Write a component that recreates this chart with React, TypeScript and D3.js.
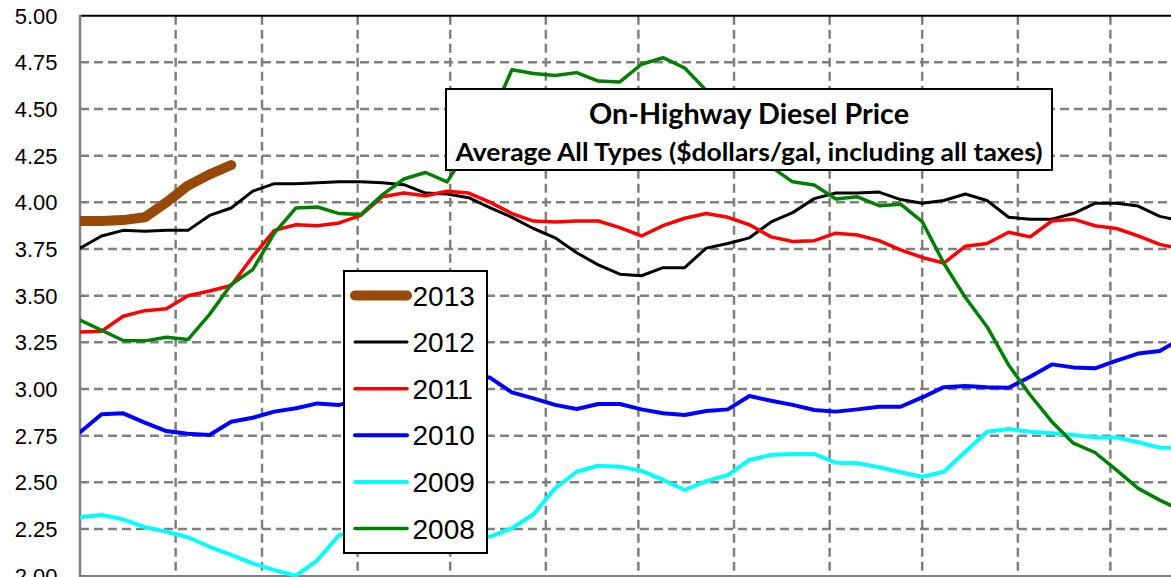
import React from 'react';
import * as d3 from 'd3';

// weekly on-highway diesel prices, week index 0..51
const prices2013 = [3.90, 3.90, 3.905, 3.92, 4.00, 4.09, 4.15, 4.20];
const prices2012 = [3.755, 3.82, 3.85, 3.845, 3.85, 3.85, 3.93, 3.97, 4.06, 4.10, 4.10, 4.105, 4.11, 4.11, 4.105,
  4.095, 4.05, 4.045, 4.025, 3.97, 3.92, 3.86, 3.81, 3.73, 3.665, 3.615, 3.607, 3.65, 3.65, 3.755, 3.78, 3.81,
  3.895, 3.945, 4.02, 4.05, 4.05, 4.055, 4.015, 3.995, 4.01, 4.045, 4.01, 3.92, 3.91, 3.91, 3.94, 3.995, 3.995,
  3.98, 3.925, 3.90];
const prices2011 = [3.305, 3.31, 3.39, 3.42, 3.43, 3.50, 3.525, 3.555, 3.71, 3.85, 3.88, 3.875, 3.89, 3.93, 4.03,
  4.05, 4.035, 4.06, 4.05, 4.00, 3.94, 3.90, 3.895, 3.90, 3.90, 3.865, 3.82, 3.875, 3.915, 3.94, 3.92, 3.88,
  3.815, 3.79, 3.795, 3.835, 3.825, 3.795, 3.745, 3.705, 3.675, 3.765, 3.78, 3.84, 3.815, 3.90, 3.91, 3.875,
  3.86, 3.82, 3.775, 3.75];
const prices2010 = [2.768, 2.865, 2.87, 2.82, 2.775, 2.76, 2.754, 2.825, 2.846, 2.879, 2.897, 2.923, 2.915, 2.94,
  3.00, 3.06, 3.07, 3.09, 3.08, 3.06, 2.982, 2.95, 2.915, 2.893, 2.92, 2.92, 2.891, 2.87, 2.861, 2.882, 2.891,
  2.963, 2.937, 2.915, 2.888, 2.879, 2.891, 2.905, 2.905, 2.955, 3.01, 3.016, 3.01, 3.007, 3.066, 3.132, 3.116,
  3.111, 3.152, 3.19, 3.204, 3.27];
const prices2009 = [2.313, 2.325, 2.302, 2.26, 2.236, 2.206, 2.155, 2.111, 2.066, 2.03, 2.00, 2.084, 2.218, 2.23,
  2.22, 2.21, 2.20, 2.20, 2.20, 2.21, 2.254, 2.329, 2.468, 2.557, 2.589, 2.584, 2.562, 2.513, 2.459, 2.507, 2.539,
  2.62, 2.647, 2.652, 2.652, 2.605, 2.602, 2.581, 2.554, 2.53, 2.557, 2.664, 2.771, 2.786, 2.771, 2.763, 2.754,
  2.741, 2.741, 2.715, 2.686, 2.686];
const prices2008 = [3.37, 3.315, 3.26, 3.258, 3.277, 3.265, 3.40, 3.56, 3.64, 3.835, 3.97, 3.975, 3.94, 3.935,
  4.04, 4.125, 4.16, 4.11, 4.29, 4.45, 4.71, 4.69, 4.68, 4.695, 4.65, 4.645, 4.74, 4.775, 4.72, 4.60, 4.47, 4.33,
  4.19, 4.11, 4.093, 4.018, 4.03, 3.982, 3.99, 3.897, 3.674, 3.49, 3.334, 3.129, 2.968, 2.825, 2.71, 2.66, 2.566,
  2.468, 2.405, 2.35];

const seriesYears = ['2013', '2012', '2011', '2010', '2009', '2008'];
const seriesValues = [prices2013, prices2012, prices2011, prices2010, prices2009, prices2008];
const seriesColors = ['#984807', '#000000', '#ff0000', '#0000ff', '#00ffff', '#008000'];
const seriesWidths = [10, 3, 3.5, 4, 4, 3.5];

const yTicks = [2.0, 2.25, 2.5, 2.75, 3.0, 3.25, 3.5, 3.75, 4.0, 4.25, 4.5, 4.75, 5.0];
const monthStartDays = [31, 59, 90, 120, 151, 181, 212, 243, 273, 304, 334];

const titleLine1 = 'On-Highway Diesel Price';
const titleLine2 = 'Average All Types ($dollars/gal, including all taxes)';

const W = 1171;
const H = 577;

export default function App() {
  const left = 80;
  const top = 15.7;
  const bottom = 575.7;
  const pxPerDay = 3.085;

  const x = d3.scaleLinear().domain([0, 365]).range([left, left + 365 * pxPerDay]);
  const y = d3.scaleLinear().domain([2, 5]).range([bottom, top]);

  const line = d3.line<number>()
    .x((_, i) => x(i * 7))
    .y(d => y(d));

  const grey = '#808080';
  const legendX = 344, legendY = 271, legendW = 143, legendH = 282;
  const legendStep = 46.6;

  return (
    <svg width={W} height={H} style={{ position: 'absolute', left: 0, top: 0, background: '#fff' }}>
      <defs>
        <clipPath id="plot">
          <rect x={left} y={top} width={x(365) - left} height={bottom - top + 2} />
        </clipPath>
      </defs>

      {/* grid */}
      {yTicks.filter(t => t > 2 && t < 5).map(t => (
        <line key={'h' + t} x1={left} x2={W} y1={y(t)} y2={y(t)}
          stroke={grey} strokeWidth={2.5} strokeDasharray="9,5" />
      ))}
      {monthStartDays.map(d => (
        <line key={'v' + d} x1={x(d)} x2={x(d)} y1={top} y2={H}
          stroke={grey} strokeWidth={2.5} strokeDasharray="9,5" />
      ))}

      {/* axes frame */}
      <line x1={left} x2={W} y1={top} y2={top} stroke="#000" strokeWidth={2} />
      <line x1={left} x2={left} y1={top - 1} y2={H} stroke={grey} strokeWidth={2.5} />
      <line x1={left} x2={W} y1={bottom + 0.5} y2={bottom + 0.5} stroke={grey} strokeWidth={2.5} />

      {yTicks.map(t => (
        <text key={'t' + t} x={57.5} y={y(t) + 7.9} textAnchor="end"
          fontFamily="'Liberation Sans', Arial, sans-serif" fontSize={22} fill="#000">
          {t.toFixed(2)}
        </text>
      ))}

      {/* series, 2013 first so 2008 ends on top */}
      <g clipPath="url(#plot)">
        {seriesValues.map((vals, k) => (
          <path key={seriesYears[k]} d={line(vals) || ''} fill="none"
            stroke={seriesColors[k]} strokeWidth={seriesWidths[k]}
            strokeLinejoin="round" strokeLinecap="round" />
        ))}
      </g>

      {/* title box */}
      <rect x={446} y={89} width={606} height={81} fill="#fff" stroke="#000" strokeWidth={2} />
      <text x={749} y={123.5} textAnchor="middle" fontFamily="Lato, 'Open Sans', sans-serif"
        fontWeight="bold" fontSize={28} textLength={320} lengthAdjust="spacingAndGlyphs">{titleLine1}</text>
      <text x={749} y={161} textAnchor="middle" fontFamily="Lato, 'Open Sans', sans-serif"
        fontWeight="bold" fontSize={24.5} textLength={587} lengthAdjust="spacingAndGlyphs">{titleLine2}</text>

      {/* legend */}
      <rect x={legendX} y={legendY} width={legendW} height={legendH} fill="#fff" stroke="#000" strokeWidth={2} />
      {seriesYears.map((yr, k) => {
        const cy = legendY + 24.5 + k * legendStep;
        const thick = seriesWidths[k];
        return (
          <g key={'l' + yr}>
            <line x1={thick > 5 ? 355 : 355} x2={407} y1={cy} y2={cy}
              stroke={seriesColors[k]} strokeWidth={thick} strokeLinecap="round" />
            <text x={412.5} y={cy + 10} fontFamily="'Liberation Sans', Arial, sans-serif" fontSize={28}>{yr}</text>
          </g>
        );
      })}
    </svg>
  );
}
